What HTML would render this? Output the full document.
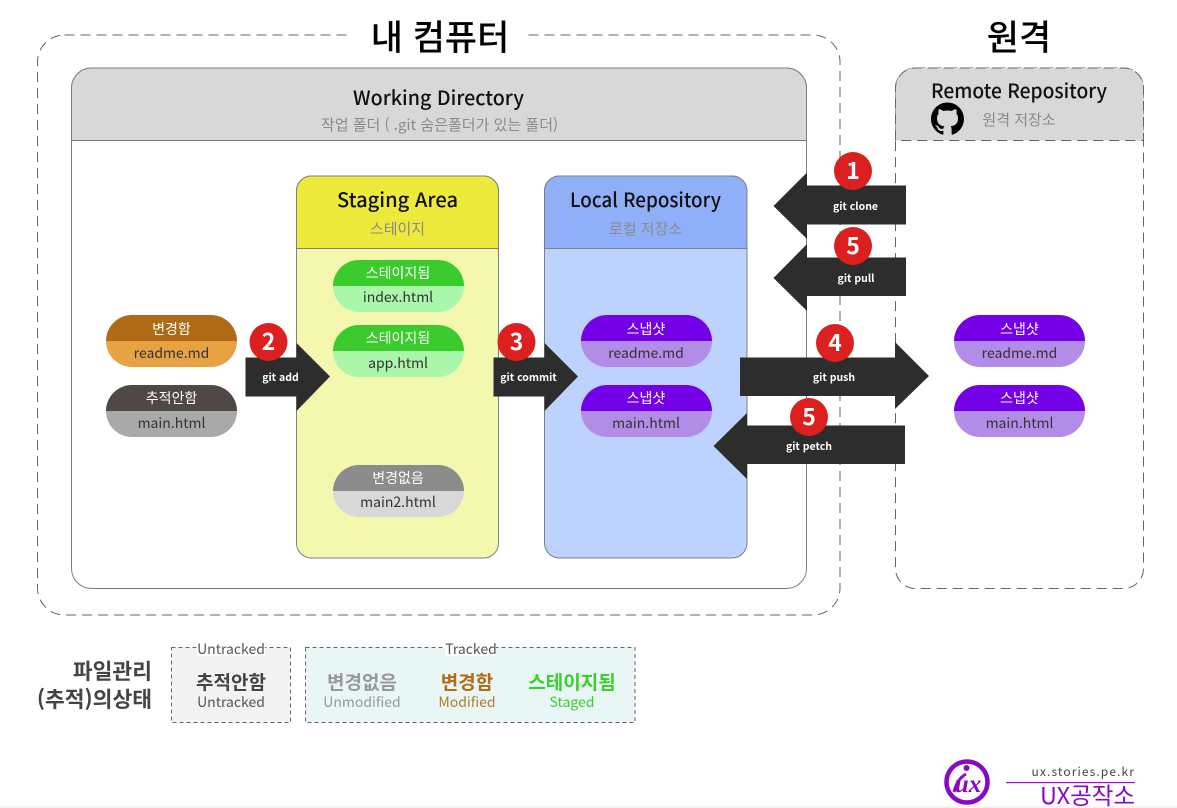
<!DOCTYPE html>
<html lang="ko">
<head>
<meta charset="utf-8">
<style>
html,body{margin:0;padding:0;background:#fff;width:1177px;height:808px;overflow:hidden}
svg{display:block}
text{font-family:"Noto Sans CJK KR","Liberation Sans",sans-serif;text-anchor:middle}
.h{font-size:20px;font-weight:500;fill:#111}
.s{font-size:15px;fill:#8a8a8a}
.pt{font-size:14px;fill:#fff}
.pf{font-size:14px;fill:#333}
.a{font-size:10.5px;font-weight:700;fill:#fff}
.n{font-size:23px;font-weight:700;fill:#fff}
.l1{font-size:19px;font-weight:700}
.l2{font-size:14px}
</style>
</head>
<body>
<svg width="1177" height="808" viewBox="0 0 1177 808" xmlns="http://www.w3.org/2000/svg">
<rect x="0" y="806" width="1177" height="2" fill="#f4f4f4"/>

<!-- outer -->
<rect x="37.5" y="35" width="802.5" height="580" rx="27" fill="none" stroke="#666" stroke-width="1" stroke-dasharray="10 6"/>
<rect x="350" y="20" width="173" height="32" fill="#fff"/>
<text x="440" y="50" style="font-size:35px;font-weight:500;fill:#000">내 컴퓨터</text>
<text x="1019" y="50" style="font-size:35px;font-weight:500;fill:#000">원격</text>

<!-- working directory -->
<rect x="71.5" y="68" width="735" height="520.5" rx="20" fill="#fff" stroke="#7f7f7f"/>
<path d="M71.5 140.500V88a20 20 0 0 1 20-20h695a20 20 0 0 1 20 20v52.500z" fill="#d8d8d8" stroke="#7f7f7f"/>
<text x="438.500" y="105" class="h" textLength="171" lengthAdjust="spacingAndGlyphs">Working Directory</text>
<text x="439.500" y="130" class="s">작업 폴더 ( .git 숨은폴더가 있는 폴더)</text>

<!-- remote -->
<rect x="895.500" y="68" width="248" height="520.500" rx="20" fill="#fff" stroke="#666" stroke-dasharray="10 6"/>
<path d="M895.500 140.500V88a20 20 0 0 1 20-20h208a20 20 0 0 1 20 20v52.500z" fill="#d8d8d8" stroke="#666" stroke-dasharray="10 6"/>
<text x="1019" y="98" class="h" textLength="176" lengthAdjust="spacingAndGlyphs">Remote Repository</text>
<text x="1019" y="125" class="s">원격 저장소</text>
<path transform="translate(931 102.500) scale(2.060)" fill="#000" d="M8 0C3.58 0 0 3.58 0 8c0 3.54 2.29 6.530 5.470 7.590.4.070.55-.17.55-.38 0-.19-.01-.82-.01-1.490-2.010.37-2.530-.49-2.690-.94-.09-.23-.48-.94-.82-1.130-.28-.15-.68-.52-.01-.53.63-.01 1.080.58 1.230.82.72 1.210 1.870.87 2.330.66.070-.52.28-.87.51-1.070-1.780-.2-3.640-.89-3.640-3.950 0-.87.31-1.590.82-2.150-.08-.2-.36-1.020.08-2.120 0 0 .67-.21 2.200.82.64-.18 1.320-.27 2-.27.68 0 1.360.09 2 .27 1.530-1.040 2.200-.82 2.200-.82.44 1.100.16 1.920.08 2.120.51.56.82 1.270.82 2.150 0 3.070-1.870 3.750-3.650 3.950.29.25.54.73.54 1.480 0 1.070-.01 1.930-.01 2.200 0 .21.15.46.55.38A8.013 8.013 0 0016 8c0-4.420-3.580-8-8-8z"/>

<!-- staging -->
<rect x="296.500" y="176" width="202" height="382" rx="15" fill="#f4f8ae" stroke="#7f7f7f"/>
<path d="M296.500 248.500V191a15 15 0 0 1 15-15h172a15 15 0 0 1 15 15v57.500z" fill="#eeea3c" stroke="#7f7f7f"/>
<text x="397.500" y="207" class="h" textLength="121" lengthAdjust="spacingAndGlyphs">Staging Area</text>
<text x="397.500" y="234" class="s">스테이지</text>

<!-- local -->
<rect x="544.500" y="176" width="202.500" height="382" rx="15" fill="#bdd2fd" stroke="#7f7f7f"/>
<path d="M544.500 248.500V191a15 15 0 0 1 15-15h172.500a15 15 0 0 1 15 15v57.500z" fill="#8fb0f8" stroke="#7f7f7f"/>
<text x="645.500" y="207" class="h" textLength="151" lengthAdjust="spacingAndGlyphs">Local Repository</text>
<text x="645.500" y="234" class="s">로컬 저장소</text>

<!-- pills -->
<g>
<path d="M106 341a26 26 0 0 1 26-26h79a26 26 0 0 1 26 26z" fill="#b06a15"/><path d="M106 341a26 26 0 0 0 26 26h79a26 26 0 0 0 26-26z" fill="#e8a244"/>
<text x="171.500" y="334" class="pt">변경함</text><text x="171.500" y="358" class="pf">readme.md</text>
<path d="M106 411a26 26 0 0 1 26-26h79a26 26 0 0 1 26 26z" fill="#4f4847"/><path d="M106 411a26 26 0 0 0 26 26h79a26 26 0 0 0 26-26z" fill="#a9a9a9"/>
<text x="171.500" y="403" class="pt">추적안함</text><text x="171.500" y="428" class="pf">main.html</text>

<path d="M333 286a26 26 0 0 1 26-26h79a26 26 0 0 1 26 26z" fill="#3bcb2c"/><path d="M333 286a26 26 0 0 0 26 26h79a26 26 0 0 0 26-26z" fill="#aaf6aa"/>
<text x="398" y="278" class="pt">스테이지됨</text><text x="398" y="302" class="pf">index.html</text>
<path d="M333 351a26 26 0 0 1 26-26h79a26 26 0 0 1 26 26z" fill="#3bcb2c"/><path d="M333 351a26 26 0 0 0 26 26h79a26 26 0 0 0 26-26z" fill="#aaf6aa"/>
<text x="398" y="343" class="pt">스테이지됨</text><text x="398" y="368" class="pf">app.html</text>
<path d="M333 491a26 26 0 0 1 26-26h79a26 26 0 0 1 26 26z" fill="#8c8c8c"/><path d="M333 491a26 26 0 0 0 26 26h79a26 26 0 0 0 26-26z" fill="#d8d8d8"/>
<text x="398" y="483" class="pt">변경없음</text><text x="398" y="507" class="pf">main2.html</text>

<path d="M581 341a26 26 0 0 1 26-26h79a26 26 0 0 1 26 26z" fill="#7300e6"/><path d="M581 341a26 26 0 0 0 26 26h79a26 26 0 0 0 26-26z" fill="#b38ce8"/>
<text x="646" y="334" class="pt">스냅샷</text><text x="646" y="358" class="pf">readme.md</text>
<path d="M581 411a26 26 0 0 1 26-26h79a26 26 0 0 1 26 26z" fill="#7300e6"/><path d="M581 411a26 26 0 0 0 26 26h79a26 26 0 0 0 26-26z" fill="#b38ce8"/>
<text x="646" y="403" class="pt">스냅샷</text><text x="646" y="428" class="pf">main.html</text>

<path d="M954 341a26 26 0 0 1 26-26h79a26 26 0 0 1 26 26z" fill="#7300e6"/><path d="M954 341a26 26 0 0 0 26 26h79a26 26 0 0 0 26-26z" fill="#b38ce8"/>
<text x="1019.500" y="334" class="pt">스냅샷</text><text x="1019.500" y="358" class="pf">readme.md</text>
<path d="M954 411a26 26 0 0 1 26-26h79a26 26 0 0 1 26 26z" fill="#7300e6"/><path d="M954 411a26 26 0 0 0 26 26h79a26 26 0 0 0 26-26z" fill="#b38ce8"/>
<text x="1019.500" y="403" class="pt">스냅샷</text><text x="1019.500" y="428" class="pf">main.html</text>
</g>

<!-- arrows -->
<g fill="#2d2d2d">
<polygon points="245.500,357.500 296.500,357.500 296.500,343 330,376.500 296.500,411 296.500,396.500 245.500,396.500"/>
<polygon points="493.500,357.500 544.500,357.500 544.500,343 578,376.500 544.500,411 544.500,396.500 493.500,396.500"/>
<polygon points="906,185.500 807,185.500 807,172.500 773.500,206 807,239 807,224.500 906,224.500"/>
<polygon points="906,257.500 807,257.500 807,244 773.500,278 807,311 807,296 906,296"/>
<polygon points="740,357.500 895,357.500 895,342 929,376 895,409 895,396 740,396"/>
<polygon points="905,425.500 747,425.500 747,413 713.500,446 747,479 747,464 905,464"/>
</g>
<text x="280.500" y="381" class="a">git add</text>
<text x="528.500" y="381" class="a">git commit</text>
<text x="855.500" y="210" class="a">git clone</text>
<text x="856" y="282" class="a">git pull</text>
<text x="834" y="381" class="a">git push</text>
<text x="809" y="450" class="a">git petch</text>

<!-- badges -->
<g fill="#dc2020">
<circle cx="268.500" cy="342" r="19"/><circle cx="516.500" cy="342" r="19"/>
<circle cx="853" cy="171" r="19"/><circle cx="853" cy="246" r="19"/>
<circle cx="835" cy="343" r="19"/><circle cx="809" cy="417" r="19"/>
</g>
<text x="268.500" y="350" class="n">2</text>
<text x="516.500" y="350" class="n">3</text>
<text x="853" y="179" class="n">1</text>
<text x="853" y="254" class="n">5</text>
<text x="835" y="351" class="n">4</text>
<text x="809" y="425" class="n">5</text>

<!-- legend -->
<text x="152" y="679" style="font-size:21.500px;font-weight:700;fill:#444;text-anchor:end">파일관리</text>
<text x="152" y="707" style="font-size:21.500px;font-weight:700;fill:#444;text-anchor:end">(추적)의상태</text>

<rect x="171.500" y="647.500" width="119" height="75" fill="#f3f3f3" stroke="#666" stroke-dasharray="4 3"/>
<rect x="197" y="642" width="68" height="14" fill="#fff"/>
<text x="231" y="654" style="font-size:14px;fill:#555">Untracked</text>
<text x="231" y="689" class="l1" style="fill:#444">추적안함</text>
<text x="231" y="707" class="l2" style="fill:#555">Untracked</text>

<rect x="305.500" y="647.500" width="329.500" height="75" fill="#e8f7f6" stroke="#666" stroke-dasharray="4 3"/>
<rect x="445" y="642" width="51" height="14" fill="#fff"/>
<text x="471" y="654" style="font-size:14px;fill:#555">Tracked</text>
<text x="362" y="689" class="l1" style="fill:#999">변경없음</text>
<text x="362" y="707" class="l2" style="fill:#999">Unmodified</text>
<text x="467" y="689" class="l1" style="fill:#b36b14">변경함</text>
<text x="467" y="707" class="l2" style="fill:#b87a28">Modified</text>
<text x="572" y="689" class="l1" style="fill:#3bcf2e">스테이지됨</text>
<text x="572" y="707" class="l2" style="fill:#3bcf2e">Staged</text>

<!-- logo -->
<circle cx="967" cy="782" r="20.500" fill="#fff" stroke="#8a08c4" stroke-width="4.500"/>
<path d="M954 792q3-13 12-18" fill="none" stroke="#8a08c4" stroke-width="3"/>
<text x="968" y="792" style="font-family:'Liberation Serif',serif;font-size:25px;font-style:italic;font-weight:700;fill:#8a08c4">ux</text>
<circle cx="966.500" cy="768" r="3" fill="#8a08c4"/>
<rect x="1006" y="782" width="129" height="1.200" fill="#9a10d0"/>
<text x="1135" y="776" style="font-size:12px;letter-spacing:1.100px;fill:#444;text-anchor:end">ux.stories.pe.kr</text>
<text x="1135" y="804" style="font-size:23.500px;fill:#8a08c4;text-anchor:end">UX공작소</text>
</svg>
</body>
</html>
